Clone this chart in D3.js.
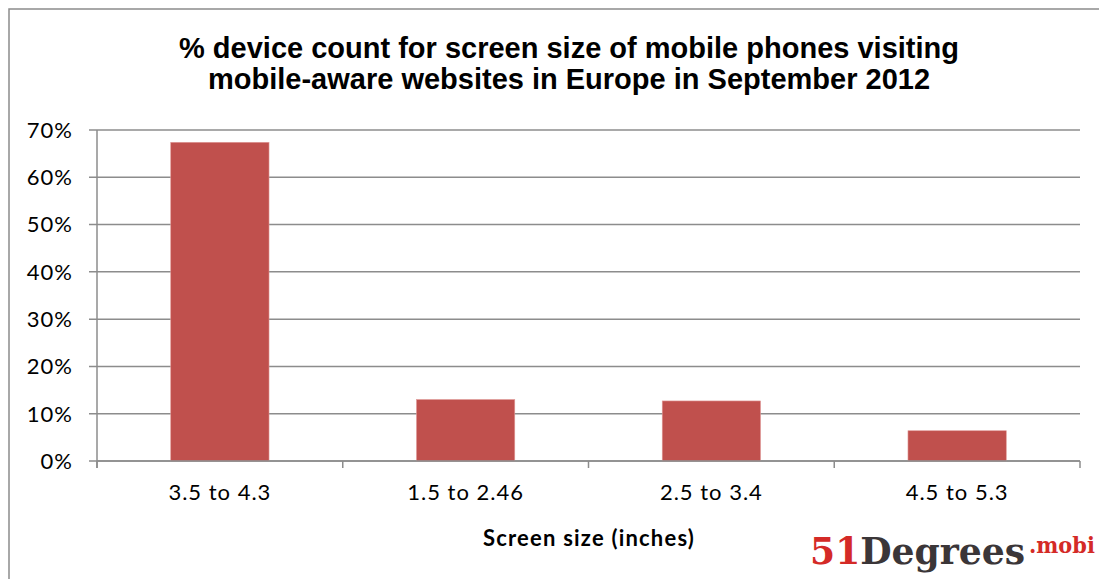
<!DOCTYPE html>
<html><head><meta charset="utf-8">
<script src="https://cdn.jsdelivr.net/npm/d3@7"></script>
<style>body{margin:0;background:#fff}svg{display:block}</style>
</head><body>
<script>
const categories = ["3.5 to 4.3", "1.5 to 2.46", "2.5 to 3.4", "4.5 to 5.3"];
const values = [0.674, 0.130, 0.127, 0.064];
const yTicks = [0, 0.1, 0.2, 0.3, 0.4, 0.5, 0.6, 0.7];
const titleLines = ["% device count for screen size of mobile phones visiting", "mobile-aware websites in Europe in September 2012"];
const xTitle = "Screen size (inches)";

const W = 1099, H = 579;
const svg = d3.select("body").append("svg").attr("width", W).attr("height", H);

svg.append("rect").attr("x", 9).attr("y", 9).attr("width", W + 20).attr("height", H + 20)
  .attr("fill", "#fff").attr("stroke", "#8c8c8c").attr("stroke-width", 1.5);

const m = {left: 97, right: 1080, top: 130, bottom: 461};
const x = d3.scaleBand().domain(categories).range([m.left, m.right]).paddingInner(0.6).paddingOuter(0.3);
const y = d3.scaleLinear().domain([0, 0.7]).range([m.bottom, m.top]);

// title
svg.append("text").attr("text-anchor", "middle")
  .style("font-family", "Liberation Sans, Arial, sans-serif").style("font-weight", "bold").style("font-size", "29px")
  .selectAll("tspan").data(titleLines).join("tspan")
  .attr("x", 569).attr("y", (d, i) => 58 + i * 31).text(d => d);

// gridlines
svg.append("g").selectAll("line").data(yTicks).join("line")
  .attr("x1", m.left - 8).attr("x2", m.right).attr("y1", d => y(d)).attr("y2", d => y(d))
  .attr("stroke", "#8c8c8c").attr("stroke-width", 1.5);

// y axis line
svg.append("line").attr("x1", m.left).attr("x2", m.left).attr("y1", m.top).attr("y2", m.bottom + 7)
  .attr("stroke", "#8c8c8c").attr("stroke-width", 1.5);

// y labels
svg.append("g").selectAll("text").data(yTicks).join("text")
  .attr("x", 73).attr("y", d => y(d)).attr("dy", "0.36em").attr("text-anchor", "end")
  .style("font-family", "Lato, Open Sans, sans-serif").style("font-size", "22px").style("letter-spacing", "1px").attr("fill", "#000")
  .text(d3.format(".0%"));

// bars
svg.append("g").selectAll("rect").data(values).join("rect")
  .attr("x", (d, i) => x(categories[i])).attr("width", x.bandwidth())
  .attr("y", d => y(d)).attr("height", d => y(0) - y(d))
  .attr("fill", "#c0504d").attr("stroke", "#e09a98").attr("stroke-width", 0.6);

// x axis
const boundaries = d3.range(categories.length + 1).map(i => m.left + i * (m.right - m.left) / categories.length);
svg.append("line").attr("x1", m.left).attr("x2", m.right).attr("y1", y(0)).attr("y2", y(0))
  .attr("stroke", "#8c8c8c").attr("stroke-width", 1.5);
svg.append("g").selectAll("line").data(boundaries).join("line")
  .attr("x1", d => d).attr("x2", d => d).attr("y1", y(0)).attr("y2", y(0) + 7)
  .attr("stroke", "#8c8c8c").attr("stroke-width", 1.5);

svg.append("g").selectAll("text").data(categories).join("text")
  .attr("x", d => x(d) + x.bandwidth() / 2).attr("y", 500).attr("text-anchor", "middle")
  .style("font-family", "Lato, Open Sans, sans-serif").style("font-size", "22px").style("letter-spacing", "1px")
  .text(d => d);

svg.append("text").attr("x", 589).attr("y", 546).attr("text-anchor", "middle")
  .style("font-family", "Lato, Open Sans, sans-serif").style("font-weight", "bold").style("font-size", "22px").style("letter-spacing", "1.2px")
  .text(xTitle);

// logo (single text, horizontally condensed to fit)
const logoG = svg.append("g");
const logo = logoG.append("text").attr("x", 0).attr("y", 0)
  .style("font-family", "DejaVu Serif, serif").style("font-weight", "bold").style("font-size", "38px");
logo.append("tspan").attr("fill", "#d42a27").text("51");
logo.append("tspan").attr("fill", "#3b3638").text("Degrees");
logo.append("tspan").attr("fill", "#d42a27").attr("dx", 4).attr("dy", -11).style("font-size", "22px").text(".mobi");
const bb = logo.node().getBBox();
const sx = Math.min(1, (1095 - 810) / (bb.x + bb.width));
logoG.attr("transform", `translate(810,564) scale(${sx},1)`);
</script>
</body></html>
